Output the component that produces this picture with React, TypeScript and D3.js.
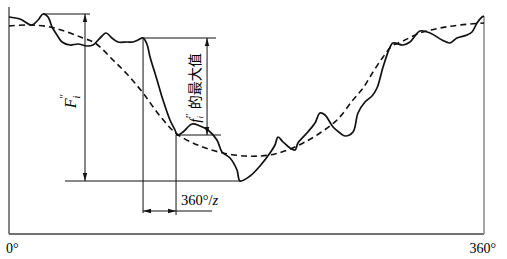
import React from "react";
import * as d3 from "d3";

// Solid curve: rotation angle (deg) vs. deviation level
const solidDeg = [0, 8.3, 17.4, 22.0, 25.8, 29.6, 32.6, 36.4, 40.2, 46.2, 52.3, 59.1, 63.7, 69.0, 73.5, 78.0, 82.6, 89.4, 94.0, 97.8, 101.6, 104.5, 106.9, 112.2, 116.7, 122.0, 125.8, 127.6, 131.9, 138.7, 144.8, 150.8, 157.6, 161.4, 167.5, 172.8, 175.1, 182.7, 190.2, 197.8, 201.6, 203.9, 207.7, 213.0, 216.8, 219.0, 225.8, 231.9, 235.7, 239.5, 245.6, 250.9, 254.7, 260.7, 264.5, 269.8, 275.1, 278.9, 283.5, 288.8, 291.0, 298.6, 303.9, 311.5, 319.1, 328.2, 334.2, 339.5, 347.1, 350.9, 354.7, 358.5, 360];
const solidVal = [217, 215, 209, 214, 220, 217, 207, 199, 192, 189, 190, 188, 189, 196, 201, 196, 192, 192, 192, 194, 196, 190, 177, 154, 134, 114, 104, 99, 102, 110, 108, 104, 94, 82, 76, 64, 53, 58, 68, 81, 89, 97, 92, 86, 84, 91, 101, 111, 121, 119, 107, 101, 98, 102, 121, 132, 138, 146, 167, 187, 191, 189, 192, 203, 201, 194, 191, 196, 199, 202, 211, 217, 218];

// Dashed curve: long-period component
const dashDeg = [0, 15.9, 31.1, 44.0, 56.1, 65.2, 78.8, 89.4, 101.6, 114.4, 127.3, 144.8, 162.2, 178.9, 190.2, 201.6, 213.0, 224.4, 235.7, 248.6, 260.7, 268.3, 275.9, 283.5, 290.3, 298.6, 311.5, 326.7, 341.8, 360];
const dashVal = [208, 209, 207, 202, 196, 191, 174, 160, 141, 118, 100, 88, 81, 78, 78, 80, 85, 92, 101, 114, 134, 146, 162, 177, 188, 193, 201, 206, 209, 211];

const xTickLabels = ["0°", "360°"];

const W = 507, H = 259;
const x = d3.scaleLinear().domain([0, 360]).range([9, 484]);
const y = d3.scaleLinear().domain([0, 220]).range([234, 14]);

const line = d3
  .line<[number, number]>()
  .x((d) => x(d[0]))
  .y((d) => y(d[1]))
  .curve(d3.curveCatmullRom.alpha(0.5));

function Arrow({ x0, y0, dir }: { x0: number; y0: number; dir: "up" | "down" | "left" | "right" }) {
  const L = 8, w = 2.2;
  let pts: [number, number][] = [];
  if (dir === "up") pts = [[x0, y0], [x0 - w, y0 + L], [x0 + w, y0 + L]];
  if (dir === "down") pts = [[x0, y0], [x0 - w, y0 - L], [x0 + w, y0 - L]];
  if (dir === "left") pts = [[x0, y0], [x0 + L, y0 - w], [x0 + L, y0 + w]];
  if (dir === "right") pts = [[x0, y0], [x0 - L, y0 - w], [x0 - L, y0 + w]];
  return <polygon points={pts.map((p) => p.join(",")).join(" ")} fill="#111" />;
}

export default function App() {
  const solid = solidDeg.map((d, i) => [d, solidVal[i]] as [number, number]);
  const dashed = dashDeg.map((d, i) => [d, dashVal[i]] as [number, number]);

  // annotation anchor values (data units)
  const topVal = 220, botVal = 53;
  const peakDeg = 101.6, peakVal = 196;
  const valleyDeg = 126.6, valleyVal = 99;
  const serif = "'Liberation Serif', 'DejaVu Serif', serif";
  const ln = { stroke: "#111", strokeWidth: 1 };

  const fx = x(57.6);
  const dimY = y(23);
  const fArrowX = x(150.1);

  return (
    <svg width={W} height={H} style={{ position: "absolute", left: 0, top: 0, background: "#fff" }}>
      {/* frame */}
      <line x1={x(0)} x2={x(0)} y1={y(227)} y2={y(0)} stroke="#444" strokeWidth={1.3} />
      <line x1={x(0)} x2={x(360)} y1={y(0)} y2={y(0)} stroke="#444" strokeWidth={1.3} />
      <line x1={x(360)} x2={x(360)} y1={y(218)} y2={y(0)} stroke="#888" strokeWidth={1.5} />

      {/* F_i'' annotation */}
      <line x1={x(25.8)} x2={x(61.4)} y1={y(topVal)} y2={y(topVal)} {...ln} />
      <line x1={x(42.4)} x2={x(175.1)} y1={y(botVal)} y2={y(botVal)} {...ln} />
      <line x1={fx} x2={fx} y1={y(topVal)} y2={y(botVal)} {...ln} />
      <Arrow x0={fx} y0={y(topVal)} dir="up" />
      <Arrow x0={fx} y0={y(botVal)} dir="down" />
      <text transform={`translate(${fx - 9},${101}) rotate(-90)`} textAnchor="middle" fontFamily={serif} fontSize={16}>
        <tspan fontStyle="italic">F</tspan>
        <tspan fontStyle="italic" fontSize={10} dy={4}>i</tspan>
        <tspan fontSize={12} dx={-3} dy={-12}>″</tspan>
      </text>

      {/* f_i'' annotation */}
      <line x1={x(peakDeg)} x2={x(peakDeg)} y1={y(peakVal)} y2={y(21)} {...ln} />
      <line x1={x(valleyDeg)} x2={x(valleyDeg)} y1={y(valleyVal)} y2={y(19)} {...ln} />
      <line x1={x(peakDeg)} x2={x(156.9)} y1={y(peakVal)} y2={y(peakVal)} {...ln} />
      <line x1={x(valleyDeg)} x2={x(160.7)} y1={y(valleyVal)} y2={y(valleyVal)} {...ln} />
      <line x1={fArrowX} x2={fArrowX} y1={y(peakVal)} y2={y(valleyVal)} {...ln} />
      <Arrow x0={fArrowX} y0={y(peakVal)} dir="up" />
      <Arrow x0={fArrowX} y0={y(valleyVal)} dir="down" />
      <text transform={`translate(${fArrowX - 7},${88}) rotate(-90)`} textAnchor="middle" fontSize={14}>
        <tspan fontFamily={serif} fontStyle="italic" fontSize={15}>f</tspan>
        <tspan fontFamily={serif} fontStyle="italic" fontSize={9} dy={3}>i</tspan>
        <tspan fontFamily={serif} fontSize={11} dx={-2} dy={-10}>″</tspan>
        <tspan fontFamily="'Noto Sans CJK SC', sans-serif" dy={7} dx={4}>的最大值</tspan>
      </text>

      {/* 360°/z dimension */}
      <line x1={x(peakDeg)} x2={x(153.9)} y1={dimY} y2={dimY} {...ln} />
      <Arrow x0={x(peakDeg)} y0={dimY} dir="left" />
      <Arrow x0={x(valleyDeg)} y0={dimY} dir="right" />
      <text x={181} y={205} fontFamily={serif} fontSize={14.5}>
        360°/<tspan fontStyle="italic">z</tspan>
      </text>

      {/* curves */}
      <path d={line(dashed) ?? ""} fill="none" stroke="#111" strokeWidth={1.6} strokeDasharray="6,4" />
      <path d={line(solid) ?? ""} fill="none" stroke="#111" strokeWidth={1.7} strokeLinejoin="round" />

      {/* x labels */}
      <text x={6} y={253} fontFamily={serif} fontSize={14}>{xTickLabels[0]}</text>
      <text x={496} y={253} textAnchor="end" fontFamily={serif} fontSize={14}>{xTickLabels[1]}</text>
    </svg>
  );
}
